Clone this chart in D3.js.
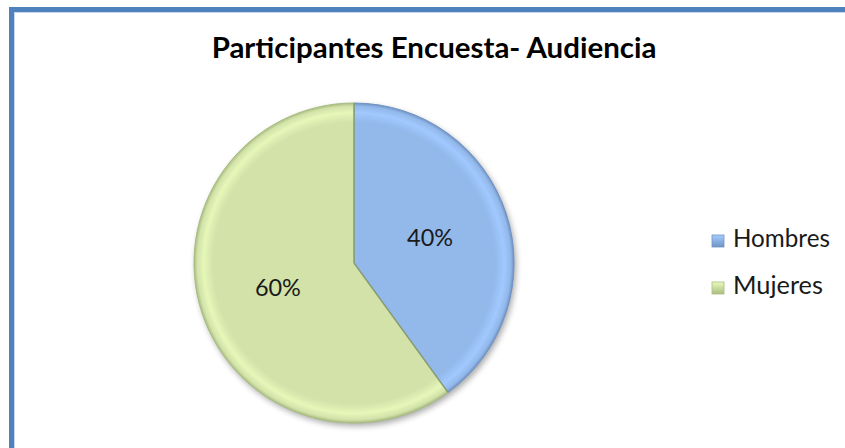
<!DOCTYPE html>
<html><head><meta charset="utf-8">
<script src="https://cdn.jsdelivr.net/npm/d3@7"></script>
<style>html,body{margin:0;padding:0;background:#fff;overflow:hidden}svg{display:block}</style>
</head><body>
<script>
const title = "Participantes Encuesta- Audiencia";
const categories = ["Hombres", "Mujeres"];
const values = [40, 60];
const labels = ["40%", "60%"];
const colors = ["#93b8ea", "#d2e2a9"];
const edgeColors = ["#6f93c4", "#a9bd80"];

const W = 845, H = 448;
const svg = d3.select("body").append("svg").attr("width", W).attr("height", H);
const defs = svg.append("defs");
const font = "Lato, 'Open Sans', sans-serif";

// frame
svg.append("rect").attr("x", 9).attr("y", 7).attr("width", W).attr("height", 5).attr("fill", "#4f81bd");
svg.append("rect").attr("x", 9).attr("y", 7).attr("width", 5).attr("height", H).attr("fill", "#4f81bd");
svg.append("rect").attr("x", 14).attr("y", 12).attr("width", W).attr("height", 1).attr("fill", "#c6d7ee");
svg.append("rect").attr("x", 14).attr("y", 12).attr("width", 1).attr("height", H).attr("fill", "#c6d7ee");

function fitText(sel, target) {
  const w = sel.node().getComputedTextLength();
  const fs = parseFloat(sel.attr("font-size"));
  sel.attr("font-size", fs * target / w);
}

const t = svg.append("text").attr("x", 434).attr("y", 58).attr("text-anchor", "middle")
  .attr("font-family", font).attr("font-weight", "bold").attr("font-size", 22).attr("fill", "#000").text(title);
fitText(t, 445);

const cx = 354, cy = 263, R = 160;
const g = svg.append("g").attr("transform", `translate(${cx},${cy})`);

// shadow
const f = defs.append("filter").attr("id", "sh").attr("x", "-20%").attr("y", "-20%").attr("width", "140%").attr("height", "140%");
f.append("feGaussianBlur").attr("stdDeviation", 3);
g.append("circle").attr("cx", 2).attr("cy", 3).attr("r", R).attr("fill", "#000").attr("opacity", 0.35).attr("filter", "url(#sh)");

const pie = d3.pie().sort(null).value(d => d)(values);
const arc = d3.arc().innerRadius(0).outerRadius(R);
const labelArc = d3.arc().innerRadius(R / 2).outerRadius(R / 2);

colors.forEach((c, i) => {
  const rg = defs.append("radialGradient").attr("id", "rg" + i).attr("gradientUnits", "userSpaceOnUse")
    .attr("cx", 0).attr("cy", 0).attr("r", R);
  rg.append("stop").attr("offset", "0%").attr("stop-color", c);
  rg.append("stop").attr("offset", "88%").attr("stop-color", c);
  rg.append("stop").attr("offset", "94%").attr("stop-color", d3.color(c).brighter(0.25));
  rg.append("stop").attr("offset", "98%").attr("stop-color", c);
  rg.append("stop").attr("offset", "100%").attr("stop-color", edgeColors[i]);
});

g.selectAll("path.slice").data(pie).enter().append("path").attr("class", "slice")
  .attr("d", arc).attr("fill", (d, i) => `url(#rg${i})`)
  .attr("stroke", (d, i) => edgeColors[i]).attr("stroke-width", 1);

// radial edge bevel lines
g.selectAll("line.edge").data(pie).enter().append("line").attr("class", "edge")
  .attr("x1", 0).attr("y1", 0)
  .attr("x2", d => R * Math.sin(d.startAngle)).attr("y2", d => -R * Math.cos(d.startAngle))
  .attr("stroke", "#7d8f68").attr("stroke-width", 1.5).attr("opacity", 0.7);

g.selectAll("text.lbl").data(pie).enter().append("text").attr("class", "lbl")
  .attr("transform", d => `translate(${labelArc.centroid(d)})`)
  .attr("text-anchor", "middle").attr("dy", "0.35em")
  .attr("font-family", font).attr("font-size", 24).attr("fill", "#1a1a1a")
  .text((d, i) => labels[i])
  .each(function () { fitText(d3.select(this), 46); });

// legend
const lg = svg.append("g");
const rows = [247, 294];
categories.forEach((c, i) => {
  const lgr = defs.append("linearGradient").attr("id", "lg" + i).attr("x1", 0).attr("y1", 0).attr("x2", 0).attr("y2", 1);
  lgr.append("stop").attr("offset", "0%").attr("stop-color", d3.color(colors[i]).brighter(0.3));
  lgr.append("stop").attr("offset", "100%").attr("stop-color", d3.color(edgeColors[i]));
  lg.append("rect").attr("x", 712).attr("y", rows[i] - 12).attr("width", 12).attr("height", 12)
    .attr("fill", `url(#lg${i})`).attr("stroke", edgeColors[i]).attr("stroke-width", 0.8);
  const tx = lg.append("text").attr("x", 733).attr("y", rows[i]).attr("font-family", font)
    .attr("font-size", 22).attr("fill", "#1a1a1a").text(c);
  fitText(tx, i === 0 ? 97 : 90);
});
</script>
</body></html>
